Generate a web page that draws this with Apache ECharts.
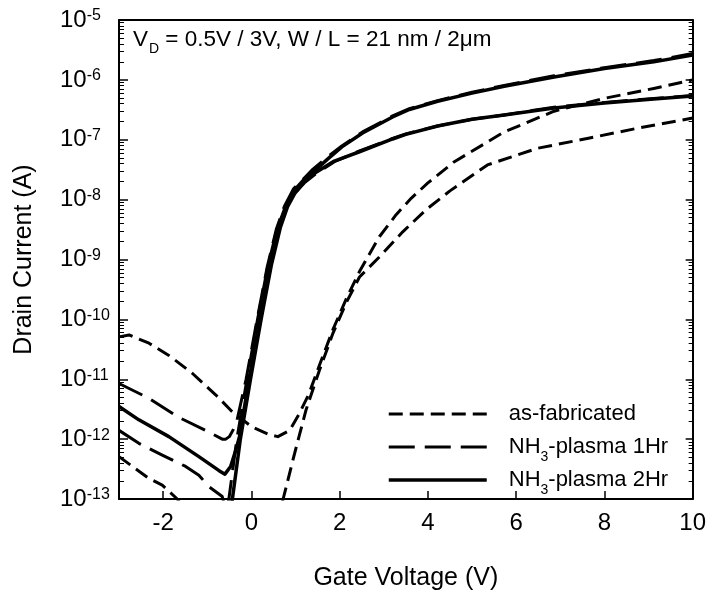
<!DOCTYPE html>
<html><head><meta charset="utf-8">
<script src="https://cdn.jsdelivr.net/npm/echarts@6/dist/echarts.min.js"></script>
<style>html,body{margin:0;padding:0;background:#fff}#c{width:709px;height:596px}</style>
</head><body><div id="c"></div>
<script>
const FONT = '"Liberation Sans", Arial, sans-serif';

// Gate voltage (V) and drain current (A)
const V_fab05 = [-3, -2.36, -2.02, -1.68, -1.3, 0.5, 0.72, 0.98, 1.24, 1.54, 1.85, 2.15, 2.45, 2.9, 3.43, 3.96, 4.5, 5.35, 6.48, 7.61, 8.74, 10];
const I_fab05 = [5.1e-13, 2.3e-13, 1.7e-13, 1.0e-13, 4.0e-14, 3.2e-14, 1.0e-13, 5.8e-13, 3.1e-12, 1.4e-11, 5.9e-11, 1.9e-10, 5.1e-10, 1.1e-9, 2.9e-9, 6.8e-9, 1.4e-8, 3.8e-8, 7.2e-8, 1.05e-7, 1.55e-7, 2.3e-7];

const V_fab3 = [-3, -2.77, -2.32, -1.87, -1.34, -0.81, -0.44, 0.01, 0.39, 0.6, 0.87, 1.09, 1.3, 1.54, 1.85, 2.15, 2.45, 2.9, 3.28, 3.62, 4.0, 4.6, 5.73, 6.86, 7.99, 9.12, 10];
const I_fab3 = [5.1e-11, 5.5e-11, 4.0e-11, 2.5e-11, 1.26e-11, 5.5e-12, 2.9e-12, 1.6e-12, 1.2e-12, 1.1e-12, 1.4e-12, 2.7e-12, 5.6e-12, 1.7e-11, 6.8e-11, 2.2e-10, 6.3e-10, 2.4e-9, 5.6e-9, 1.05e-8, 1.9e-8, 4.3e-8, 1.35e-7, 3.0e-7, 4.9e-7, 7.2e-7, 1.0e-6];

const V_h1_3 = [-3, -2.32, -1.64, -1.04, -0.66, -0.58, -0.5, -0.42, -0.33, -0.12, 0.13, 0.36, 0.57, 0.75, 0.95, 1.2, 1.39, 1.7, 2.05, 2.52, 3.2, 3.58, 4.22, 5.0, 5.73, 6.86, 8.0, 9.12, 10];
const I_h1_3 = [8.5e-12, 4.8e-12, 2.3e-12, 1.4e-12, 1.0e-12, 1.0e-12, 1.1e-12, 1.4e-12, 2.0e-12, 1.0e-11, 1.0e-10, 7.6e-10, 3.3e-9, 7.8e-9, 1.5e-8, 2.3e-8, 3.2e-8, 5.0e-8, 7.9e-8, 1.35e-7, 2.5e-7, 3.3e-7, 4.5e-7, 6.2e-7, 8.1e-7, 1.17e-6, 1.6e-6, 2.1e-6, 2.75e-6];

const V_h1_05 = [-3, -2.55, -2.02, -1.49, -1.19, -0.96, -0.66, -0.58, -0.51, -0.33, -0.1, 0.14, 0.37, 0.58, 0.76, 0.95, 1.2, 1.43, 1.88, 2.45, 3.2, 3.5, 4.22, 5.0, 5.73, 6.86, 8.0, 9.12, 10];
const I_h1_05 = [1.4e-12, 8.5e-13, 5.4e-13, 3.5e-13, 2.5e-13, 1.6e-13, 1.1e-13, 6.3e-14, 1.0e-13, 1.0e-12, 1.0e-11, 1.0e-10, 7.6e-10, 3.2e-9, 7.3e-9, 1.2e-8, 1.9e-8, 2.6e-8, 4.3e-8, 6.5e-8, 1.05e-7, 1.25e-7, 1.7e-7, 2.2e-7, 2.6e-7, 3.5e-7, 4.2e-7, 4.9e-7, 5.5e-7];

const V_h2_3 = [-3, -2.55, -1.87, -1.19, -0.74, -0.6, -0.47, -0.36, -0.27, -0.05, 0.19, 0.42, 0.62, 0.8, 0.98, 1.2, 1.43, 1.72, 2.05, 2.52, 3.2, 3.58, 4.22, 5.0, 5.73, 6.86, 8.0, 9.12, 10];
const I_h2_3 = [3.5e-12, 2.1e-12, 1.1e-12, 5.1e-13, 3.0e-13, 2.6e-13, 3.5e-13, 6.3e-13, 1.1e-12, 1.0e-11, 1.0e-10, 7.9e-10, 3.5e-9, 8.0e-9, 1.45e-8, 2.2e-8, 3.0e-8, 4.7e-8, 7.6e-8, 1.3e-7, 2.4e-7, 3.2e-7, 4.4e-7, 6.0e-7, 7.8e-7, 1.12e-6, 1.55e-6, 2.0e-6, 2.6e-6];

const V_h2_05 = [-0.5, -0.43, -0.25, -0.02, 0.22, 0.45, 0.66, 0.82, 0.98, 1.2, 1.43, 1.88, 2.45, 3.2, 3.5, 4.22, 5.0, 5.73, 6.86, 8.0, 9.12, 10];
const I_h2_05 = [5.0e-14, 1.0e-13, 1.0e-12, 1.0e-11, 1.0e-10, 7.9e-10, 3.5e-9, 7.6e-9, 1.26e-8, 2.0e-8, 2.75e-8, 4.4e-8, 6.3e-8, 1.03e-7, 1.23e-7, 1.7e-7, 2.2e-7, 2.6e-7, 3.4e-7, 4.1e-7, 4.8e-7, 5.4e-7];

const xTicks = [-2, 0, 2, 4, 6, 8, 10];
const xMin = -3, xMax = 10;
const yMin = 1e-13, yMax = 1e-5;
const legendNames = ['as-fabricated', 'NH3-plasma 1Hr', 'NH3-plasma 2Hr'];

function pairs(xs, ys) { return xs.map((x, i) => [x, ys[i]]); }

const lineStyles = {
  'as-fabricated': { color: '#000', width: 3, type: [14, 7], cap: 'butt', join: 'round' },
  'NH3-plasma 1Hr': { color: '#000', width: 3, type: [26, 10], cap: 'butt', join: 'round' },
  'NH3-plasma 2Hr': { color: '#000', width: 3.5, type: 'solid', cap: 'butt', join: 'round' }
};

function mk(name, xs, ys) {
  return {
    name: name, type: 'line', data: pairs(xs, ys), symbol: 'none', showSymbol: false,
    smooth: false, clip: true,
    lineStyle: lineStyles[name], itemStyle: { color: '#000' }, silent: true
  };
}

const legendText = {
  'as-fabricated': '{f|as-fabricated}{s| }',
  'NH3-plasma 1Hr': '{f|NH}{s|3}{m|-plasma 1Hr}',
  'NH3-plasma 2Hr': '{f|NH}{s|3}{m|-plasma 2Hr}'
};

const chart = echarts.init(document.getElementById('c'), null, { renderer: 'canvas' });
chart.setOption({
  animation: false,
  backgroundColor: '#fff',
  grid: { left: 119, right: 15, top: 20, bottom: 97, containLabel: false },
  title: {
    text: '{m|V}{s|D}{m| = 0.5V / 3V, W / L = 21 nm / 2μm}',
    left: 133, top: 28, padding: 0,
    textStyle: {
      fontFamily: FONT, fontWeight: 'normal', fontSize: 22, color: '#000',
      rich: {
        m: { fontFamily: FONT, fontSize: 22.5, lineHeight: 22, verticalAlign: 'top', color: '#000' },
        s: { fontFamily: FONT, fontSize: 14, lineHeight: 14, padding: [14, 0, 0, 1], verticalAlign: 'top', color: '#000' }
      }
    }
  },
  legend: {
    data: legendNames.map(n => ({ name: n, lineStyle: { width: lineStyles[n].width } })),
    orient: 'vertical', left: 387, top: 403, padding: 0,
    itemWidth: 98, itemHeight: 14, itemGap: 5, selectedMode: false,
    itemStyle: { opacity: 0 },
    lineStyle: { width: 3 },
    formatter: n => legendText[n],
    textStyle: {
      fontFamily: FONT, fontSize: 22, color: '#000',
      rich: {
        f: { fontFamily: FONT, fontSize: 22, lineHeight: 22, verticalAlign: 'top', padding: [0, 0, 0, 17], color: '#000' },
        m: { fontFamily: FONT, fontSize: 22, lineHeight: 22, verticalAlign: 'top', color: '#000' },
        s: { fontFamily: FONT, fontSize: 14, lineHeight: 14, padding: [14, 0, 0, 0], verticalAlign: 'top', color: '#000' }
      }
    }
  },
  xAxis: [
    {
      type: 'value', min: xMin, max: xMax, position: 'bottom',
      axisLine: { show: true, onZero: false, lineStyle: { color: '#000', width: 2 } },
      axisTick: { show: true, inside: true, length: 8, customValues: xTicks, lineStyle: { color: '#000', width: 1.5 } },
      axisLabel: { customValues: xTicks, fontFamily: FONT, fontSize: 24, color: '#000', margin: 12 },
      splitLine: { show: false },
      name: 'Gate Voltage (V)', nameLocation: 'middle', nameGap: 67,
      nameTextStyle: { fontFamily: FONT, fontSize: 25, color: '#000' }
    },
    {
      type: 'value', min: xMin, max: xMax, position: 'top',
      axisLine: { show: true, onZero: false, lineStyle: { color: '#000', width: 2 } },
      axisTick: { show: false }, axisLabel: { show: false }, splitLine: { show: false }
    }
  ],
  yAxis: [
    {
      type: 'log', logBase: 10, min: yMin, max: yMax, splitNumber: 8, position: 'left',
      axisLine: { show: true, onZero: false, lineStyle: { color: '#000', width: 2 } },
      axisTick: { show: true, inside: true, length: 9, lineStyle: { color: '#000', width: 1.5 } },
      minorTick: { show: true, splitNumber: 9, length: 5, lineStyle: { color: '#000', width: 1 } },
      splitLine: { show: false }, minorSplitLine: { show: false },
      axisLabel: {
        align: 'left', margin: 59, color: '#000',
        formatter: v => '{b|10}{e|' + Math.round(Math.log10(v)) + '}',
        rich: {
          b: { fontFamily: FONT, fontSize: 24, lineHeight: 24, verticalAlign: 'bottom', color: '#000' },
          e: { fontFamily: FONT, fontSize: 16, lineHeight: 16, padding: [0, 0, 10, 0], verticalAlign: 'top', color: '#000' }
        }
      },
      name: 'Drain Current (A)', nameLocation: 'middle', nameGap: 82, nameRotate: 90,
      nameTextStyle: { fontFamily: FONT, fontSize: 25, color: '#000' }
    },
    {
      type: 'log', logBase: 10, min: yMin, max: yMax, splitNumber: 8, position: 'right',
      axisLine: { show: true, onZero: false, lineStyle: { color: '#000', width: 2 } },
      axisTick: { show: true, inside: true, length: 7, lineStyle: { color: '#000', width: 1.5 } },
      minorTick: { show: true, splitNumber: 9, length: 4, lineStyle: { color: '#000', width: 1 } },
      splitLine: { show: false }, minorSplitLine: { show: false },
      axisLabel: { show: false }
    }
  ],
  series: [
    mk('as-fabricated', V_fab3, I_fab3),
    mk('as-fabricated', V_fab05, I_fab05),
    mk('NH3-plasma 1Hr', V_h1_3, I_h1_3),
    mk('NH3-plasma 1Hr', V_h1_05, I_h1_05),
    mk('NH3-plasma 2Hr', V_h2_3, I_h2_3),
    mk('NH3-plasma 2Hr', V_h2_05, I_h2_05)
  ]
});
</script></body></html>
